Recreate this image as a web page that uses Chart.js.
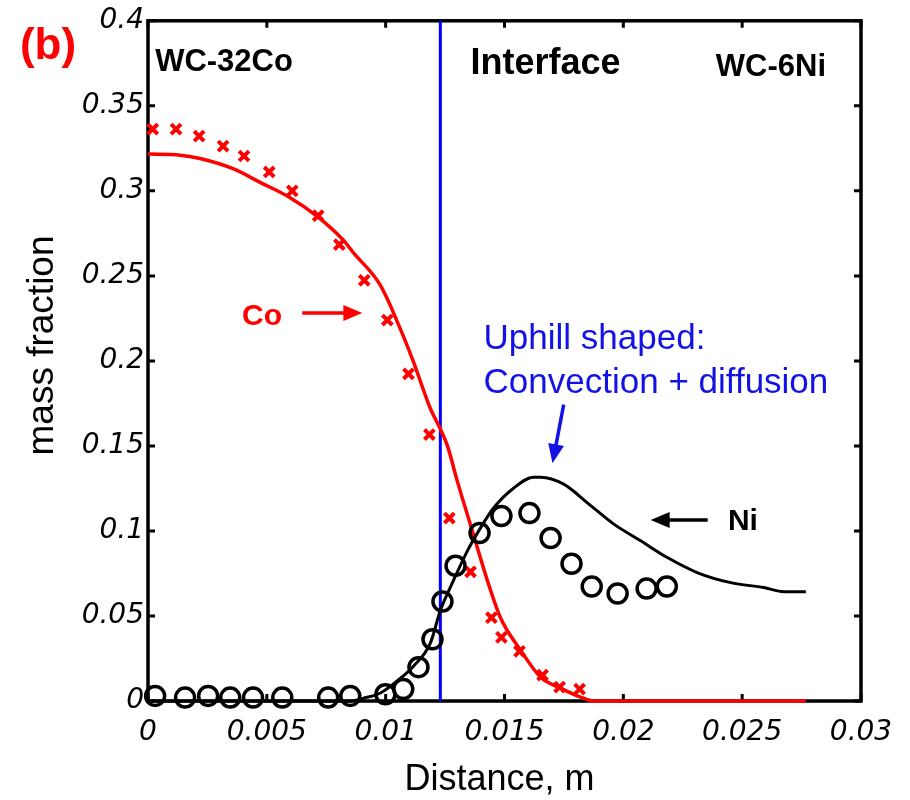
<!DOCTYPE html>
<html><head><meta charset="utf-8">
<script src="https://cdn.jsdelivr.net/npm/chart.js@4.4.1/dist/chart.umd.min.js"></script>
<style>html,body{margin:0;padding:0;background:#fff;}canvas{display:block;}</style>
</head><body>
<canvas id="c" width="910" height="800"></canvas>
<script>
// ---- tick values / labels ----
const xTickValues = [0, 0.005, 0.01, 0.015, 0.02, 0.025, 0.03];
const xTickLabels = ['0', '0.005', '0.01', '0.015', '0.02', '0.025', '0.03'];
const yTickValues = [0, 0.05, 0.1, 0.15, 0.2, 0.25, 0.3, 0.35, 0.4];
const yTickLabels = ['0', '0.05', '0.1', '0.15', '0.2', '0.25', '0.3', '0.35', '0.4'];

// ---- Co simulated profile (red line) ----
const coLineX = [0, 0.00135, 0.00219, 0.00358, 0.00472, 0.00598, 0.00712, 0.00822, 0.00864, 0.00978, 0.01062, 0.01117, 0.01188, 0.0123, 0.0126, 0.01302, 0.01369, 0.01428, 0.01483, 0.01567, 0.01652, 0.01736, 0.0182, 0.01875, 0.02768];
const coLineY = [0.3216, 0.321, 0.319, 0.313, 0.305, 0.296, 0.285, 0.271, 0.2637, 0.2444, 0.2187, 0.1994, 0.172, 0.160, 0.150, 0.129, 0.098, 0.0708, 0.049, 0.030, 0.014, 0.0076, 0.0023, 0, 0];

// ---- Co measured (red crosses) ----
const coPtsX = [0.0002, 0.00118, 0.00215, 0.00316, 0.00404, 0.0051, 0.00607, 0.00716, 0.00805, 0.0091, 0.01007, 0.01096, 0.01184, 0.01268, 0.01357, 0.01445, 0.01487, 0.01563, 0.0166, 0.01732, 0.01816];
const coPtsY = [0.3363, 0.3363, 0.3322, 0.3263, 0.3205, 0.3111, 0.300, 0.2854, 0.2684, 0.2474, 0.224, 0.1924, 0.1567, 0.1076, 0.076, 0.049, 0.0374, 0.0292, 0.0152, 0.0082, 0.007];

// ---- Ni simulated profile (black line) ----
const niLineX = [0, 0.0085, 0.0091, 0.00978, 0.0105, 0.01117, 0.01188, 0.0123, 0.01285, 0.01344, 0.01399, 0.01454, 0.01538, 0.01622, 0.01652, 0.01749, 0.0185, 0.0196, 0.02073, 0.02187, 0.02313, 0.02452, 0.02591, 0.02676, 0.02768];
const niLineY = [0, 0, 0.0018, 0.0047, 0.012, 0.0205, 0.034, 0.0532, 0.0708, 0.0883, 0.1018, 0.1135, 0.1251, 0.1316, 0.1316, 0.1275, 0.1164, 0.104, 0.0942, 0.0842, 0.0754, 0.0696, 0.0667, 0.0643, 0.0643];

// ---- Ni measured (black circles) ----
const niPtsX = [0.0003, 0.00156, 0.00253, 0.00346, 0.00442, 0.00565, 0.00758, 0.00851, 0.00999, 0.01074, 0.01138, 0.01197, 0.01239, 0.01294, 0.01395, 0.01487, 0.01605, 0.01694, 0.01782, 0.01867, 0.01976, 0.02098, 0.02183];
const niPtsY = [0.003, 0.002, 0.003, 0.002, 0.002, 0.002, 0.002, 0.003, 0.004, 0.007, 0.0199, 0.0363, 0.0585, 0.0795, 0.0988, 0.1088, 0.1105, 0.0959, 0.0807, 0.0673, 0.0632, 0.0661, 0.0673];

// ---- interface position ----
const interfaceX = 0.0123;

const toPts = (xs, ys) => xs.map((x, i) => ({x: x, y: ys[i]}));

// annotation texts (positions in data units)
const notes = [
  {text: '(b)', x: -0.00539, y: 0.3778, font: 'bold 44px "Liberation Sans"', color: '#ff0000'},
  {text: 'WC-32Co', x: 0.0003, y: 0.3702, font: 'bold 31px "Liberation Sans"', color: '#000'},
  {text: 'Interface', x: 0.01357, y: 0.3690, font: 'bold 36px "Liberation Sans"', color: '#000'},
  {text: 'WC-6Ni', x: 0.02389, y: 0.3678, font: 'bold 31px "Liberation Sans"', color: '#000'},
  {text: 'Co', x: 0.00396, y: 0.2211, font: 'bold 30px "Liberation Sans"', color: '#ff0000'},
  {text: 'Uphill shaped:', x: 0.01412, y: 0.2070, font: '35px "Liberation Sans"', color: '#1212e6'},
  {text: 'Convection + diffusion', x: 0.01412, y: 0.1813, font: '35px "Liberation Sans"', color: '#1212e6'},
  {text: 'Ni', x: 0.0244, y: 0.1006, font: 'bold 30px "Liberation Sans"', color: '#000'}
];
const arrows = [
  {x1: 0.00649, y1: 0.2281, x2: 0.00902, y2: 0.2281, color: '#ff0000'},
  {x1: 0.01749, y1: 0.1743, x2: 0.01702, y2: 0.1398, color: '#1212e6'},
  {x1: 0.02355, y1: 0.1064, x2: 0.02115, y2: 0.1064, color: '#000'}
];

const framePlugin = {
  id: 'frame',
  beforeDatasetsDraw(chart) {
    const {ctx, chartArea: a, scales} = chart;
    ctx.save();
    ctx.strokeStyle = '#000';
    ctx.lineWidth = 3.5;
    ctx.strokeRect(a.left, a.top, a.right - a.left, a.bottom - a.top);
    ctx.lineWidth = 3;
    const tl = 7;
    scales.x.ticks.forEach(t => {
      const px = scales.x.getPixelForValue(t.value);
      ctx.beginPath();
      ctx.moveTo(px, a.bottom); ctx.lineTo(px, a.bottom - tl);
      ctx.moveTo(px, a.top); ctx.lineTo(px, a.top + tl);
      ctx.stroke();
    });
    scales.y.ticks.forEach(t => {
      const py = scales.y.getPixelForValue(t.value);
      ctx.beginPath();
      ctx.moveTo(a.left, py); ctx.lineTo(a.left + tl, py);
      ctx.moveTo(a.right, py); ctx.lineTo(a.right - tl, py);
      ctx.stroke();
    });
    ctx.restore();
  },
  afterDraw(chart) {
    const {ctx, scales} = chart;
    const X = v => scales.x.getPixelForValue(v);
    const Y = v => scales.y.getPixelForValue(v);
    ctx.save();
    ctx.textBaseline = 'alphabetic';
    ctx.textAlign = 'left';
    notes.forEach(n => {
      ctx.font = n.font;
      ctx.fillStyle = n.color;
      ctx.fillText(n.text, X(n.x), Y(n.y));
    });
    arrows.forEach(ar => {
      const x1 = X(ar.x1), y1 = Y(ar.y1), x2 = X(ar.x2), y2 = Y(ar.y2);
      const ang = Math.atan2(y2 - y1, x2 - x1);
      const hl = 19, hw = 8;
      ctx.strokeStyle = ar.color; ctx.fillStyle = ar.color;
      ctx.lineWidth = 3.5;
      ctx.beginPath();
      ctx.moveTo(x1, y1);
      ctx.lineTo(x2 - (hl - 2) * Math.cos(ang), y2 - (hl - 2) * Math.sin(ang));
      ctx.stroke();
      ctx.beginPath();
      ctx.moveTo(x2, y2);
      ctx.lineTo(x2 - hl * Math.cos(ang) + hw * Math.sin(ang), y2 - hl * Math.sin(ang) - hw * Math.cos(ang));
      ctx.lineTo(x2 - hl * Math.cos(ang) - hw * Math.sin(ang), y2 - hl * Math.sin(ang) + hw * Math.cos(ang));
      ctx.closePath();
      ctx.fill();
    });
    ctx.restore();
  }
};

const tickFont = {family: '"DejaVu Sans"', style: 'italic', size: 28};

new Chart(document.getElementById('c'), {
  type: 'scatter',
  data: {
    datasets: [
      {label: 'Ni measured', data: toPts(niPtsX, niPtsY), showLine: false, pointStyle: 'circle',
       pointRadius: 9.5, pointBorderWidth: 3.5, pointBorderColor: '#000', pointBackgroundColor: 'rgba(0,0,0,0)', clip: false},
      {label: 'Co measured', data: toPts(coPtsX, coPtsY), showLine: false, pointStyle: 'crossRot',
       pointRadius: 7, pointBorderWidth: 4, pointBorderColor: '#ff0000', clip: false},
      {label: 'Ni simulated', data: toPts(niLineX, niLineY), showLine: true, borderColor: '#000',
       borderWidth: 3, pointRadius: 0, cubicInterpolationMode: 'monotone', clip: false},
      {label: 'Co simulated', data: toPts(coLineX, coLineY), showLine: true, borderColor: '#ff0000',
       borderWidth: 3.5, pointRadius: 0, cubicInterpolationMode: 'monotone', clip: false},
      {label: 'Interface', data: [{x: interfaceX, y: 0}, {x: interfaceX, y: 0.4}], showLine: true,
       borderColor: '#0000ff', borderWidth: 3, pointRadius: 0}
    ]
  },
  options: {
    responsive: false,
    animation: false,
    events: [],
    layout: {padding: {left: 0, top: 17, right: 49, bottom: 0}},
    plugins: {legend: {display: false}, tooltip: {enabled: false}},
    scales: {
      x: {
        type: 'linear', min: 0, max: 0.03,
        afterBuildTicks: s => { s.ticks = xTickValues.map(v => ({value: v})); },
        afterFit: s => { s.height = 99; },
        ticks: {callback: (v, i) => xTickLabels[i], font: tickFont, color: '#000', padding: 15,
                maxRotation: 0, minRotation: 0, autoSkip: false},
        grid: {display: false, drawTicks: false},
        border: {display: false},
        title: {display: true, text: 'Distance, m ', color: '#000',
                font: {family: '"Liberation Sans"', size: 36, lineHeight: 1}, padding: {top: 0, bottom: 1.5}}
      },
      y: {
        type: 'linear', min: 0, max: 0.4,
        afterBuildTicks: s => { s.ticks = yTickValues.map(v => ({value: v})); },
        afterFit: s => { s.width = 148; },
        ticks: {callback: (v, i) => yTickLabels[i], font: tickFont, color: '#000', padding: 4, autoSkip: false},
        grid: {display: false, drawTicks: false},
        border: {display: false},
        title: {display: true, text: '   mass fraction', color: '#000',
                font: {family: '"Liberation Sans"', size: 37, lineHeight: 1}, padding: {top: 24, bottom: 0}}
      }
    }
  },
  plugins: [framePlugin]
});
</script>
</body></html>
